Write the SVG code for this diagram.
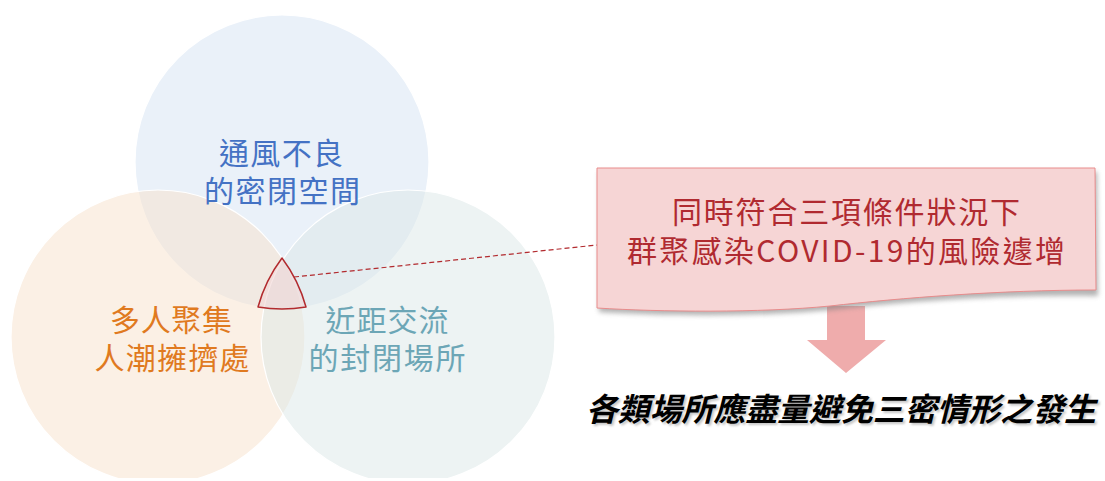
<svg xmlns="http://www.w3.org/2000/svg" width="1105" height="481" viewBox="0 0 1105 481">
<defs>
<style>
.t{font-family:"Noto Sans CJK TC","Noto Sans CJK SC",sans-serif;font-size:30px;text-anchor:middle}
.c{stroke:#ffffff;stroke-width:1.2}
</style>
<clipPath id="clip"><rect x="0" y="0" width="1105" height="478"/></clipPath>
<filter id="sh" x="-5%" y="-5%" width="115%" height="130%"><feGaussianBlur stdDeviation="2.5"/></filter>
<filter id="tsh" x="-5%" y="-20%" width="110%" height="150%"><feGaussianBlur stdDeviation="1"/></filter>
</defs>
<rect width="1105" height="481" fill="#ffffff"/>
<g clip-path="url(#clip)">
<g id="circle-top"><circle class="c" cx="282" cy="162" r="147" fill="#D6E4F3" fill-opacity="0.5"/></g>
<g id="circle-left"><circle class="c" cx="158" cy="337" r="147" fill="#F8E1CC" fill-opacity="0.5"/></g>
<g id="circle-right"><circle class="c" cx="408" cy="337" r="147" fill="#DCE8E8" fill-opacity="0.5"/></g>
</g>
<g id="labels">
<text class="t" x="281" y="164" fill="#4472C4" textLength="124">通風不良</text>
<text class="t" x="282" y="202" fill="#4472C4" textLength="156">的密閉空間</text>
<text class="t" x="171" y="331" fill="#E07A1F" textLength="122">多人聚集</text>
<text class="t" x="172" y="369" fill="#E07A1F" textLength="155">人潮擁擠處</text>
<text class="t" x="387" y="331" fill="#6CA6B6" textLength="123">近距交流</text>
<text class="t" x="387" y="369" fill="#6CA6B6" textLength="157">的封閉場所</text>
</g>
<g id="intersection">
<path d="M282 258 A147 147 0 0 0 258 307 A147 147 0 0 0 306 307 A147 147 0 0 0 282 258 Z" fill="#F2D6D6" fill-opacity="0.6" stroke="#B22A2E" stroke-width="1.5" stroke-linejoin="round"/>
</g>
<g id="connectors">
<line x1="294" y1="277" x2="597" y2="245" stroke="#B22A2E" stroke-width="1.2" stroke-dasharray="5,3"/>
<path id="arrow" d="M827 306 L865 306 L865 340 L886 340 L846 373 L807 340 L827 340 Z" fill="#EFACAC"/>
</g>
<g id="callout">
<path d="M599 172 L1097 172 L1098 296 C1000 294 900 302 830 310 C760 317 660 316 599 312 Z" fill="#808080" opacity="0.6" filter="url(#sh)"/>
<path d="M597 168 L1095 168 L1096 290 C1000 290 900 298 830 306 C760 313 660 312 597 308 Z" fill="#F6D5D5" stroke="#E98C8C" stroke-width="1"/>
<text class="t" x="846" y="223" fill="#B02A30" textLength="348">同時符合三項條件狀況下</text>
<text class="t" x="846" y="262" fill="#B02A30" textLength="438">群聚感染COVID-19的風險遽增</text>
</g>
<g id="conclusion">
<text class="t" x="843" y="423" font-weight="bold" font-style="italic" fill="#808080" opacity="0.45" filter="url(#tsh)" textLength="510" style="font-size:32px">各類場所應盡量避免三密情形之發生</text>
<text class="t" x="841" y="421" font-weight="bold" font-style="italic" fill="#000000" textLength="510" style="font-size:32px">各類場所應盡量避免三密情形之發生</text>
</g>
</svg>
